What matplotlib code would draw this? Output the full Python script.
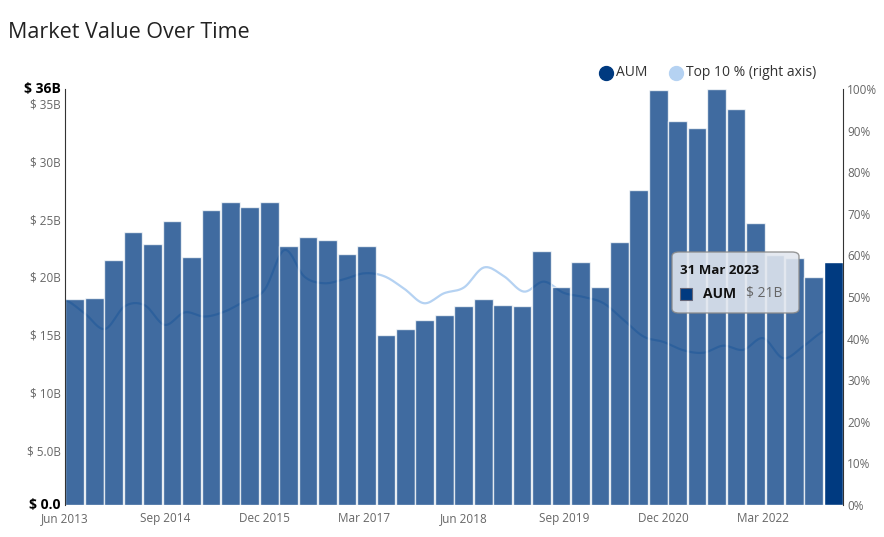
import numpy as np
import matplotlib
matplotlib.use('Agg')
import matplotlib.pyplot as plt
import matplotlib.transforms as mtrans
from matplotlib.patches import FancyBboxPatch, Rectangle
from matplotlib.lines import Line2D

plt.rcParams['font.family'] = ['Open Sans', 'DejaVu Sans']

# quarterly AUM ($B), Jun 2013 .. Mar 2023
aum = [17.8, 17.9, 21.2, 23.6, 22.6, 24.6, 21.5, 25.5, 26.2, 25.8,
       26.2, 22.4, 23.2, 22.9, 21.7, 22.4, 14.7, 15.2, 16.0, 16.4,
       17.2, 17.8, 17.3, 17.2, 22.0, 18.9, 21.0, 18.9, 22.8, 27.3,
       35.9, 33.2, 32.6, 36.0, 34.3, 24.4, 21.6, 21.4, 19.7, 21.0]
# share of top 10 holdings (%), right axis
top10 = [49.3, 46.0, 42.3, 47.8, 48.0, 43.3, 46.3, 45.3, 46.5, 49.0,
         51.7, 61.3, 54.9, 53.3, 54.3, 55.7, 55.0, 52.0, 48.5, 50.9,
         52.3, 57.1, 55.0, 51.3, 53.7, 51.0, 50.0, 48.5, 44.5, 40.5,
         39.2, 37.2, 36.6, 38.3, 37.3, 40.1, 35.3, 38.1, 41.7, 42.9]
tick_labels = ['Jun 2013', 'Sep 2014', 'Dec 2015', 'Mar 2017',
               'Jun 2018', 'Sep 2019', 'Dec 2020', 'Mar 2022']
left_ticks = [5, 10, 15, 20, 25, 30, 35]

bar_col = '#003a80'
line_col = '#b5d2f2'
grey = '#666666'

fig = plt.figure(figsize=(8.84, 5.37), dpi=100)
W, H = 884, 537
ax = fig.add_axes([65 / W, (H - 505) / H, (843 - 65) / W, (505 - 89) / H])
ax2 = ax.twinx()

n = len(aum)
span = n - 1  # datetime axis runs from first to last point
# right axis line (drawn behind bars)
xs = np.arange(n, dtype=float)
ys = np.array(top10, dtype=float)
# catmull-rom smoothing for spline look
p = np.concatenate([[ys[0]], ys, [ys[-1]]])
px = np.concatenate([[xs[0] - 1], xs, [xs[-1] + 1]])
sx, sy = [], []
t = np.linspace(0, 1, 12, endpoint=False)
for i in range(1, len(p) - 2):
    p0, p1, p2, p3 = p[i - 1], p[i], p[i + 1], p[i + 2]
    yy = 0.5 * ((2 * p1) + (-p0 + p2) * t + (2 * p0 - 5 * p1 + 4 * p2 - p3) * t ** 2
                + (-p0 + 3 * p1 - 3 * p2 + p3) * t ** 3)
    sx.extend(px[i] + t)
    sy.extend(yy)
sx.append(xs[-1]); sy.append(ys[-1])
ax2.plot(sx, sy, color=line_col, lw=1.6, zorder=1)
ax2.set_ylim(0, 100)

# bars are laid out categorically across the plot width
pitch = span / n
centers = (np.arange(n) + 0.5) * pitch
ax.set_zorder(ax2.get_zorder() + 1)
ax.patch.set_visible(False)
for i, v in enumerate(aum):
    last = i == n - 1
    ax.bar(centers[i], v, width=pitch * 0.96, color=bar_col,
           alpha=1.0 if last else 0.75, edgecolor='white', linewidth=1.0, zorder=2)

ax.set_xlim(0, span)
ax.set_ylim(0, 36)
ax.set_xticks(np.arange(0, 36, 5))
ax.set_xticklabels(tick_labels, fontsize=8.5, color=grey)
ax.tick_params(axis='x', length=0, pad=5)

ax.set_yticks([0] + left_ticks + [36])
ylabels = ['$ 0.0'] + ['$ 5.0B'] + ['$ %dB' % v for v in left_ticks[1:]] + ['$ 36B']
ax.set_yticklabels(ylabels, fontsize=8.5, color=grey)
ax.tick_params(axis='y', length=0, pad=3)
down = mtrans.ScaledTranslation(0, -3 / 100, fig.dpi_scale_trans)
up = mtrans.ScaledTranslation(0, 1 / 100, fig.dpi_scale_trans)
ylbls = ax.get_yticklabels()
for lbl in ylbls[1:-1]:
    lbl.set_transform(lbl.get_transform() + down)
for lbl in (ylbls[0], ylbls[-1]):
    lbl.set_fontweight('bold')
    lbl.set_color('black')
    lbl.set_fontsize(10)
    lbl.set_transform(lbl.get_transform() + up)

ax2.set_yticks(np.arange(0, 101, 10))
ax2.set_yticklabels(['%d%%' % v for v in range(0, 101, 10)], fontsize=8.5, color=grey)
ax2.tick_params(axis='y', length=0, pad=3)

for a in (ax, ax2):
    for s in ('top', 'bottom'):
        a.spines[s].set_visible(False)
ax.spines['right'].set_visible(False)
ax2.spines['left'].set_visible(False)
ax.spines['left'].set_color('#333333')
ax2.spines['right'].set_color('#333333')

# title
fig.text(8 / W, 1 - 33 / H, 'Market Value Over Time', fontsize=15.5, color='#222222',
         va='center', ha='left')

# legend
ly = 1 - 73 / H
fig.add_artist(Line2D([606 / W], [ly], marker='o', ms=10, color=bar_col, lw=0,
                      transform=fig.transFigure))
fig.text(616 / W, ly, 'AUM', fontsize=10, color='#333333', va='center')
fig.add_artist(Line2D([676 / W], [ly], marker='o', ms=10, color=line_col, lw=0,
                      transform=fig.transFigure))
fig.text(686 / W, ly, 'Top 10 % (right axis)', fontsize=10, color='#333333', va='center')

# tooltip for last point
tip = FancyBboxPatch((672 / W, 1 - 313 / H), 127 / W, 61 / H,
                     boxstyle='round,pad=0,rounding_size=0.008', transform=fig.transFigure,
                     facecolor='#e2e7ef', edgecolor='#8a8a8a', linewidth=1.0, alpha=0.88,
                     zorder=10)
fig.patches.append(tip)
fig.text(680 / W, 1 - 270 / H, '31 Mar 2023', fontsize=9.5, fontweight='bold', color='#111111',
         va='center', zorder=11)
fig.patches.append(Rectangle((680 / W, 1 - 300 / H), 12 / W, 12 / H, transform=fig.transFigure,
                             facecolor=bar_col, edgecolor='#667', lw=0.8, zorder=11))
fig.text(703 / W, 1 - 294 / H, 'AUM', fontsize=10, fontweight='bold', color='#111111',
         va='center', zorder=11)
fig.text(746 / W, 1 - 294 / H, '$ %dB' % round(aum[-1]), fontsize=10, color=grey,
         va='center', zorder=11)

fig.savefig('out.png', dpi=100)
